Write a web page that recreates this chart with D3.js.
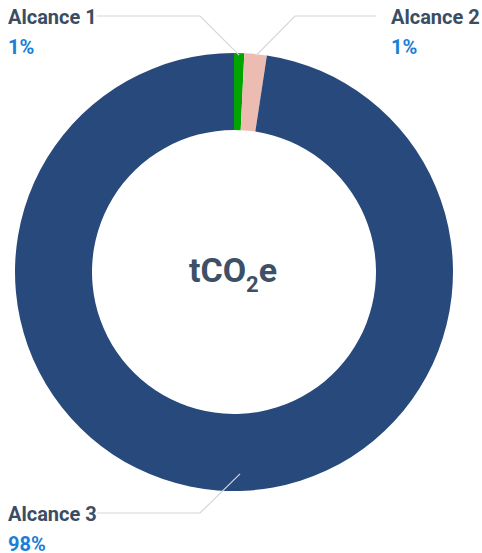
<!DOCTYPE html>
<html lang="es">
<head>
<meta charset="UTF-8">
<title>tCO2e</title>
<script src="https://d3js.org/d3.v7.min.js"></script>
<style>
  body { margin: 0; background: #fff; }
  svg text { font-family: Roboto, "Noto Sans", sans-serif; }
  .name { font-size: 20px; font-weight: 700; fill: #3a4d63; }
  .pct { font-size: 20px; font-weight: 700; fill: #1b7fd6; }
  .leader { fill: none; stroke: #d3d6db; stroke-width: 1.2; }
</style>
</head>
<body>
<div id="chart"></div>
<script>
// data
const categories = ["Alcance 1", "Alcance 2", "Alcance 3"];
const values = [0.75, 1.65, 97.6];
const pctLabels = ["1%", "1%", "98%"];
const colors = ["#00a500", "#ecbcb2", "#27497b"];

const width = 482, height = 553;
const cx = 234, cy = 272;
const outerR = 219, innerR = 142;

const svg = d3.select("#chart").append("svg")
  .attr("width", width)
  .attr("height", height);

const pie = d3.pie().sort(null).value(d => d.value);
const arcs = pie(categories.map((c, i) => ({ name: c, value: values[i], label: pctLabels[i], color: colors[i] })));

const arc = d3.arc().innerRadius(innerR).outerRadius(outerR);

const g = svg.append("g").attr("transform", `translate(${cx},${cy})`);

g.selectAll("path")
  .data(arcs)
  .enter().append("path")
  .attr("d", arc)
  .attr("fill", d => d.data.color);

// label placement: text x, baseline y, elbow x of the leader line
const labelPos = [
  { x: 8, y: 24, lineX: 200 },
  { x: 391, y: 24, lineX: 295 },
  { x: 8, y: 521, lineX: 200 }
];

arcs.forEach((d, i) => {
  const p = labelPos[i];
  let a = (d.startAngle + d.endAngle) / 2;
  if (i === 2) a = Math.PI - 0.03; // bottom of the big slice
  const r = i === 2 ? 202 : 217;
  const ax = cx + r * Math.sin(a), ay = cy - r * Math.cos(a);
  const ly = p.y - 8;

  const name = svg.append("text").attr("class", "name")
    .attr("x", p.x).attr("y", p.y).text(d.data.name);
  svg.append("text").attr("class", "pct")
    .attr("x", p.x).attr("y", p.y + 30).text(d.data.label);

  const w = name.node().getComputedTextLength();
  const tx = i === 1 ? p.x - 15 : p.x + w;
  svg.insert("path", "text")
    .attr("class", "leader")
    .attr("d", `M${tx},${ly}L${p.lineX},${ly}L${ax},${ay}`);
});

// centre label
const center = svg.append("text")
  .attr("x", cx - 1)
  .attr("y", cy + 10)
  .attr("text-anchor", "middle")
  .style("font-size", "34px")
  .style("font-weight", 700)
  .style("fill", "#3d5068");
center.append("tspan").text("tCO");
center.append("tspan").attr("dy", 10).style("font-size", "22px").text("2");
center.append("tspan").attr("dy", -10).text("e");
</script>
</body>
</html>
